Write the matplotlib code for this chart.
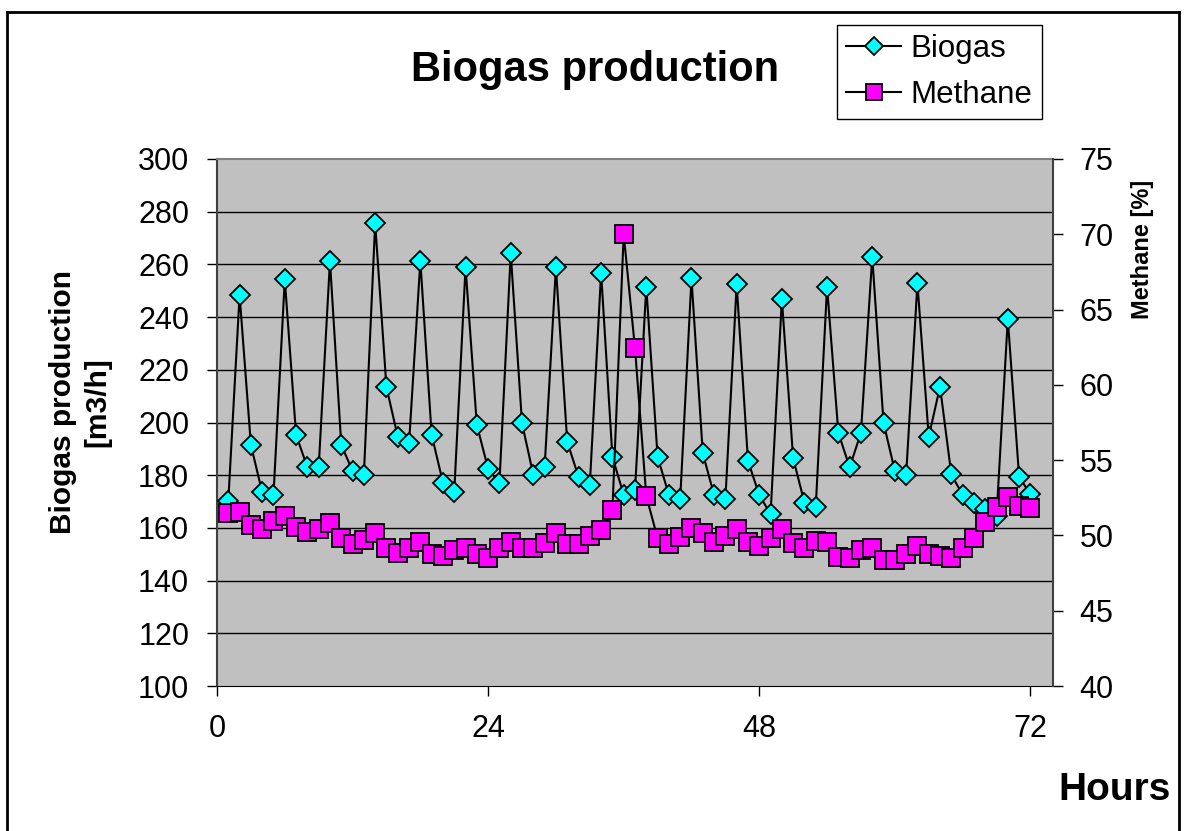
import matplotlib
matplotlib.use('Agg')
import matplotlib.pyplot as plt
from matplotlib.lines import Line2D

hours = list(range(1, 73))
biogas = [170.2, 248.4, 191.5, 173.5, 172.5, 254.3, 195.3, 183.0, 183.0, 261.3,
          191.5, 181.6, 180.1, 275.6, 213.4, 194.6, 192.1, 261.3, 195.3, 177.2,
          173.7, 258.9, 199.1, 182.4, 177.0, 264.2, 199.7, 180.1, 183.0, 258.9,
          192.7, 179.4, 176.3, 256.9, 187.0, 172.5, 174.4, 251.5, 187.0, 172.5,
          170.9, 254.7, 188.3, 172.5, 170.9, 252.4, 185.4, 172.5, 165.2, 246.8,
          186.4, 169.6, 168.1, 251.5, 196.1, 183.0, 196.1, 262.9, 199.9, 181.6,
          180.1, 252.8, 194.6, 213.6, 180.3, 172.5, 169.6, 167.0, 164.4, 239.3,
          179.4, 172.7]
methane = [51.47, 51.58, 50.69, 50.41, 50.98, 51.29, 50.58, 50.25, 50.41, 50.81,
           49.81, 49.43, 49.70, 50.14, 49.14, 48.85, 49.14, 49.58, 48.77, 48.63,
           49.03, 49.14, 48.77, 48.48, 49.14, 49.58, 49.14, 49.14, 49.52, 50.14,
           49.41, 49.41, 49.96, 50.36, 51.69, 70.00, 62.43, 52.62, 49.81, 49.43,
           49.92, 50.47, 50.14, 49.58, 49.96, 50.41, 49.58, 49.30, 49.85, 50.41,
           49.48, 49.14, 49.63, 49.58, 48.59, 48.48, 49.03, 49.14, 48.37, 48.37,
           48.77, 49.30, 48.77, 48.63, 48.48, 49.14, 49.81, 50.91, 51.91, 52.57,
           51.95, 51.80]
x_ticks = [0, 24, 48, 72]
left_ticks = list(range(100, 301, 20))
right_ticks = list(range(40, 76, 5))

plt.rcParams['font.family'] = ['Liberation Sans', 'DejaVu Sans']

W, H = 1184, 831
fig = plt.figure(figsize=(W / 100, H / 100), dpi=100)
L, R, T, B = 217, 1053, 159, 686
ax = fig.add_axes([L / W, 1 - B / H, (R - L) / W, (B - T) / H])
ax.set_facecolor('#C0C0C0')
ax.set_xlim(0, 74)
ax.set_ylim(100, 300)
ax.set_yticks(left_ticks)
ax.set_xticks(x_ticks)
ax.grid(axis='y', color='black', lw=1)
gl = ax.get_ygridlines()
gl[0].set_visible(False)
gl[-1].set_visible(False)
ax.set_axisbelow(True)
ax.tick_params(axis='y', direction='out', length=7, width=1, pad=13, labelsize=22)
ax.tick_params(axis='x', direction='out', length=7, width=1, pad=13, labelsize=22)
ax.spines['top'].set_color('#808080')
ax.spines['top'].set_linewidth(1.5)
ax.spines['left'].set_color('#404040')
ax.spines['left'].set_linewidth(1.5)
ax.spines['bottom'].set_color('black')
ax.spines['right'].set_visible(False)

ax.plot(hours, biogas, color='black', lw=1.5, marker='D', ms=10.5,
        mfc='#00FFFF', mec='black', mew=1.3, zorder=3)

ax2 = ax.twinx()
ax2.set_ylim(40, 75)
ax2.set_yticks(right_ticks)
ax2.tick_params(axis='y', direction='out', length=7, width=1, pad=12, labelsize=22)
for s in ['top', 'left', 'bottom']:
    ax2.spines[s].set_visible(False)
ax2.spines['right'].set_color('#404040')
ax2.spines['right'].set_linewidth(1.5)
ax2.plot(hours, methane, color='black', lw=1.5, marker='s', ms=12.5,
         mfc='#FF00FF', mec='black', mew=1.3, zorder=3)

fig.text(595 / W, 1 - 81 / H, 'Biogas production', fontsize=30, fontweight='bold',
         ha='center', va='baseline')
fig.text(80 / W, 1 - 402 / H, 'Biogas production\n[m3/h]', fontsize=21.5,
         fontweight='bold', rotation=90, ha='center', va='center',
         multialignment='center', linespacing=1.3)
fig.text(1143 / W, 1 - 249 / H, 'Methane [%]', fontsize=17, fontweight='bold',
         rotation=90, ha='center', va='center')
fig.text(1115 / W, 1 - 800 / H, 'Hours', fontsize=28, fontweight='bold',
         ha='center', va='baseline')

handles = [
    Line2D([], [], color='black', lw=1.5, marker='D', ms=9, mfc='#00FFFF',
           mec='black', mew=1.3),
    Line2D([], [], color='black', lw=1.5, marker='s', ms=11, mfc='#FF00FF',
           mec='black', mew=1.3),
]
leg = fig.legend(handles, ['Biogas', 'Methane'], loc='upper left',
                 bbox_to_anchor=(837 / W, 1 - 25 / H), bbox_transform=fig.transFigure,
                 borderaxespad=0, fontsize=22.5, handlelength=1.75, handletextpad=0.3,
                 labelspacing=0.5, borderpad=0.3, fancybox=False, framealpha=1,
                 edgecolor='black')
leg.get_frame().set_linewidth(1)

# outer chart border
for xs, ys in [((7, 7), (12, 840)), ((7, 1179), (12, 12)), ((1179, 1179), (12, 840))]:
    fig.add_artist(Line2D([x / W for x in xs], [1 - y / H for y in ys],
                          color='black', lw=2, transform=fig.transFigure))

fig.savefig('out.png', dpi=100)
